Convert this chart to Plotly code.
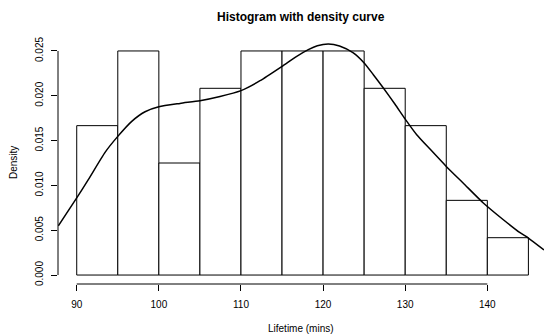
import plotly.graph_objects as go

# Histogram data (density scale)
bin_starts = [90, 95, 100, 105, 110, 115, 120, 125, 130, 135, 140]
bin_width = 5
counts = [4, 6, 3, 5, 6, 6, 6, 5, 4, 2, 1]
n_total = sum(counts)
densities = [c / (n_total * bin_width) for c in counts]
mids = [b + bin_width / 2 for b in bin_starts]

# Density curve
curve_x = [87.76, 90.0, 91.41, 93.45, 95.0, 96.7, 98.32, 100.0, 102.58, 105.0,
           107.45, 110.0, 112.32, 115.0, 116.79, 118.2, 119.3, 120.64, 122.0,
           123.68, 125.0, 126.12, 127.34, 128.76, 130.0, 131.4, 133.02, 135.0,
           137.08, 139.51, 141.95, 143.98, 145.0, 146.9]
curve_y = [0.0055, 0.0086, 0.01064, 0.01369, 0.01547, 0.01715, 0.01822, 0.01877,
           0.01915, 0.01945, 0.01992, 0.02058, 0.02168, 0.02328, 0.0244, 0.02515,
           0.02558, 0.02578, 0.02555, 0.02478, 0.02366, 0.02235, 0.02087, 0.01905,
           0.0174, 0.01566, 0.01405, 0.01212, 0.01024, 0.00804, 0.00617, 0.00472,
           0.00413, 0.0028]

x_ticks = [90, 100, 110, 120, 130, 140]
y_ticks = [0.0, 0.005, 0.010, 0.015, 0.020, 0.025]

FONT = "Liberation Sans, Arial, Helvetica, sans-serif"

fig = go.Figure()
fig.add_trace(go.Bar(x=mids, y=densities, width=bin_width,
                     marker=dict(color="white", line=dict(color="black", width=1)),
                     showlegend=False, hoverinfo="skip"))
fig.add_trace(go.Scatter(x=curve_x, y=curve_y, mode="lines",
                         line=dict(color="black", width=1.5, shape="spline", smoothing=0.6),
                         showlegend=False, hoverinfo="skip"))

fig.update_layout(
    width=544, height=336,
    margin=dict(l=58, r=0, t=42, b=52),
    paper_bgcolor="white", plot_bgcolor="white",
    font=dict(family=FONT, size=10, color="black"),
    xaxis=dict(range=[87.72, 146.9], tickvals=x_ticks, ticks="outside", ticklen=6,
               tickcolor="black", tickwidth=1, showgrid=False, zeroline=False,
               showline=False, ticklabelstandoff=5),
    yaxis=dict(range=[-0.001, 0.026], tickvals=y_ticks, tickformat=".3f",
               ticks="outside", ticklen=6, tickcolor="black", tickwidth=1,
               tickangle=-90, showgrid=False, zeroline=False, showline=False,
               ticklabelstandoff=4),
    shapes=[
        dict(type="line", xref="paper", yref="y", x0=0, x1=0, y0=y_ticks[0], y1=y_ticks[-1],
             line=dict(color="black", width=1)),
        dict(type="line", xref="x", yref="paper", x0=x_ticks[0], x1=x_ticks[-1], y0=0, y1=0,
             line=dict(color="black", width=1)),
    ],
    annotations=[
        dict(text="<b>Histogram with density curve</b>", xref="paper", yref="paper",
             x=0.5, y=1, yshift=25, showarrow=False, font=dict(size=12, family=FONT),
             xanchor="center", yanchor="middle"),
        dict(text="Lifetime (mins)", xref="paper", yref="paper", x=0.5, y=0, yshift=-44,
             showarrow=False, font=dict(size=10, family=FONT), xanchor="center", yanchor="middle"),
        dict(text="Density", xref="paper", yref="paper", x=0, y=0.5, xshift=-45,
             showarrow=False, textangle=-90, font=dict(size=10, family=FONT),
             xanchor="center", yanchor="middle"),
    ],
)

fig.write_html("out.html")
